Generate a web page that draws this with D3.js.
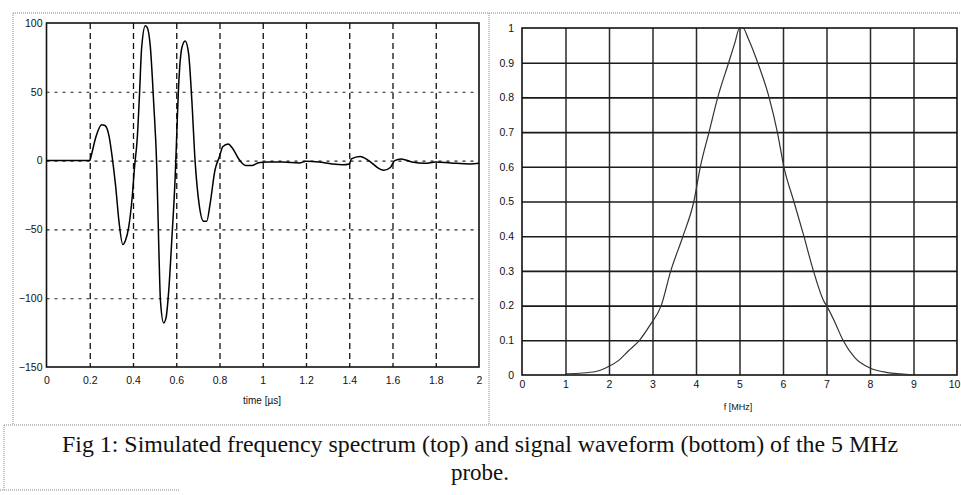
<!DOCTYPE html>
<html>
<head>
<meta charset="utf-8">
<script src="https://cdn.jsdelivr.net/npm/d3@7/dist/d3.min.js"></script>
<style>
  html, body { margin: 0; padding: 0; background: #fff; }
  svg { display: block; }
  .tick text { font-family: "Liberation Sans", Arial, sans-serif; font-size: 10.5px; fill: #111; }
  .domain { display: none; }
  .frame { fill: none; stroke: #888; stroke-width: 1; stroke-dasharray: 1,1; }
</style>
</head>
<body>
<script>
// Waveform (left panel): time in us, amplitude
var timeUs = [0, 0.2, 0.205, 0.228, 0.255, 0.27, 0.289, 0.304, 0.32, 0.335, 0.353, 0.365, 0.38, 0.396, 0.407,
  0.42, 0.43, 0.44, 0.457, 0.465, 0.48, 0.496, 0.51, 0.519, 0.527, 0.542, 0.553, 0.565, 0.58, 0.595, 0.603,
  0.61, 0.626, 0.641, 0.657, 0.672, 0.687, 0.706, 0.726, 0.741, 0.756, 0.779, 0.8, 0.815, 0.84, 0.86, 0.89,
  0.92, 0.95, 0.98, 1.02, 1.09, 1.17, 1.2, 1.26, 1.32, 1.37, 1.4, 1.41, 1.45, 1.49, 1.54, 1.56, 1.59, 1.61,
  1.64, 1.69, 1.75, 1.8, 1.87, 1.96, 2.0];
var amplitude = [0, 0, 2.5, 17, 26, 25.5, 18, 2.4, -19, -44, -61, -58, -48.5, -27, -5,
  17, 48, 82, 98, 97, 83, 41, -5, -61, -102, -118, -114, -95, -56, -12, 22,
  51, 82, 87, 78, 44, 0, -32, -44, -44, -32, -7, 3, 10, 12, 9, 1,
  -3.5, -3.5, -1.5, -1, -1, -1.7, -0.5, -1, -2.4, -3, -2.4, 1.2, 3, 0, -6, -7, -5, 0,
  1.2, -1, -2, -1, -1.7, -2.4, -2];

// Spectrum (right panel): frequency in MHz, normalised magnitude
var freqMHz = [1.0, 1.3, 1.7, 2.0, 2.2, 2.45, 2.7, 2.95, 3.2, 3.42, 3.7, 3.95, 4.1, 4.3, 4.5, 4.75, 4.9, 5.0,
  5.08, 5.2, 5.42, 5.68, 5.87, 6.02, 6.25, 6.48, 6.7, 6.95, 7.0, 7.2, 7.38, 7.65, 8.0, 8.4, 8.7, 9.0];
var magnitude = [0.003, 0.005, 0.01, 0.025, 0.04, 0.07, 0.1, 0.145, 0.2, 0.3, 0.4, 0.5, 0.6, 0.7, 0.8, 0.9, 0.96, 1.0,
  1.0, 0.97, 0.9, 0.8, 0.7, 0.6, 0.5, 0.4, 0.3, 0.21, 0.2, 0.15, 0.1, 0.05, 0.02, 0.007, 0.003, 0];

var timeTicks = [0, 0.2, 0.4, 0.6, 0.8, 1, 1.2, 1.4, 1.6, 1.8, 2];
var ampTicks = [-150, -100, -50, 0, 50, 100];
var freqTicks = [0, 1, 2, 3, 4, 5, 6, 7, 8, 9, 10];
var magTicks = [0, 0.1, 0.2, 0.3, 0.4, 0.5, 0.6, 0.7, 0.8, 0.9, 1];

var captionLines = [
  'Fig 1: Simulated frequency spectrum (top) and signal waveform (bottom) of the 5 MHz',
  'probe.'
];

var W = 961, H = 495;

var svg = d3.select('body').append('svg')
  .attr('width', W)
  .attr('height', H);

svg.append('rect').attr('width', W).attr('height', H).attr('fill', '#fff');

// Scanned figure frame.
svg.append('path').attr('class', 'frame')
  .attr('d', 'M13,13H961 M13,13V425 M489,13V425 M4,425H961 M4,425V490 M0,490H180');

// ---- Left panel: waveform ----
var left = { x0: 46.5, x1: 479, y0: 23, y1: 367 };

var xT = d3.scaleLinear().domain([0, 2]).range([left.x0, left.x1]);
var yA = d3.scaleLinear().domain([-150, 100]).range([left.y1, left.y0]);

var gL = svg.append('g');

gL.append('g')
  .attr('transform', 'translate(0,' + left.y0 + ')')
  .call(d3.axisBottom(xT).tickValues(timeTicks.slice(1, -1)).tickFormat('').tickSizeInner(left.y1 - left.y0).tickSizeOuter(0))
  .selectAll('.tick line')
  .attr('stroke', '#111').attr('stroke-width', 1.3).attr('stroke-dasharray', '6,4');

gL.append('g')
  .attr('transform', 'translate(' + left.x0 + ',0)')
  .call(d3.axisRight(yA).tickValues(ampTicks.slice(1, -1)).tickFormat('').tickSizeInner(left.x1 - left.x0).tickSizeOuter(0))
  .selectAll('.tick line')
  .attr('stroke', '#222').attr('stroke-width', 1.1).attr('stroke-dasharray', '3,5');

gL.append('rect')
  .attr('x', left.x0).attr('y', left.y0)
  .attr('width', left.x1 - left.x0).attr('height', left.y1 - left.y0)
  .attr('fill', 'none').attr('stroke', '#111').attr('stroke-width', 1.6);

gL.append('g')
  .attr('transform', 'translate(0,' + left.y1 + ')')
  .call(d3.axisBottom(xT).tickValues(timeTicks).tickSize(0).tickPadding(10).tickFormat(function(d) { return d; }));

gL.append('g')
  .attr('transform', 'translate(' + left.x0 + ',0)')
  .call(d3.axisLeft(yA).tickValues(ampTicks).tickSize(0).tickPadding(4));

var wave = d3.line()
  .x(function(d) { return xT(d[0]); })
  .y(function(d) { return yA(d[1]); })
  .curve(d3.curveMonotoneX);

gL.append('path')
  .datum(d3.zip(timeUs, amplitude))
  .attr('d', wave)
  .attr('fill', 'none').attr('stroke', '#000').attr('stroke-width', 1.5);

gL.append('text')
  .attr('x', 262).attr('y', 404)
  .attr('text-anchor', 'middle')
  .style('font-family', '"Liberation Sans", Arial, sans-serif')
  .style('font-size', '10px')
  .attr('fill', '#111')
  .text('time [µs]');

// ---- Right panel: spectrum ----
var right = { x0: 522, x1: 957, y0: 28, y1: 375 };

var xF = d3.scaleLinear().domain([0, 10]).range([right.x0, right.x1]);
var yM = d3.scaleLinear().domain([0, 1]).range([right.y1, right.y0]);

var gR = svg.append('g');

gR.append('g')
  .attr('transform', 'translate(0,' + right.y0 + ')')
  .call(d3.axisBottom(xF).tickValues(freqTicks.slice(1, -1)).tickFormat('').tickSizeInner(right.y1 - right.y0).tickSizeOuter(0))
  .selectAll('.tick line')
  .attr('stroke', '#2a2a2a').attr('stroke-width', 1.5);

gR.append('g')
  .attr('transform', 'translate(' + right.x0 + ',0)')
  .call(d3.axisRight(yM).tickValues(magTicks.slice(1, -1)).tickFormat('').tickSizeInner(right.x1 - right.x0).tickSizeOuter(0))
  .selectAll('.tick line')
  .attr('stroke', '#1a1a1a').attr('stroke-width', 1.6);

gR.append('rect')
  .attr('x', right.x0).attr('y', right.y0)
  .attr('width', right.x1 - right.x0).attr('height', right.y1 - right.y0)
  .attr('fill', 'none').attr('stroke', '#111').attr('stroke-width', 1.6);

gR.append('g')
  .attr('transform', 'translate(0,' + right.y1 + ')')
  .call(d3.axisBottom(xF).tickValues(freqTicks).tickSize(0).tickPadding(6))
  .selectAll('.tick text')
  .attr('dx', function(d) { return d === 10 ? -3 : 0; });

gR.append('g')
  .attr('transform', 'translate(' + right.x0 + ',0)')
  .call(d3.axisLeft(yM).tickValues(magTicks).tickSize(0).tickPadding(8).tickFormat(function(d) { return d; }));

var spec = d3.line()
  .x(function(d) { return xF(d[0]); })
  .y(function(d) { return yM(d[1]); })
  .curve(d3.curveMonotoneX);

gR.append('path')
  .datum(d3.zip(freqMHz, magnitude))
  .attr('d', spec)
  .attr('fill', 'none').attr('stroke', '#333').attr('stroke-width', 1.2);

gR.append('text')
  .attr('x', 738).attr('y', 410)
  .attr('text-anchor', 'middle')
  .style('font-family', '"Liberation Sans", Arial, sans-serif')
  .style('font-size', '9px')
  .attr('fill', '#111')
  .text('f [MHz]');

// ---- Caption ----
var cap = svg.append('g')
  .style('font-family', '"Liberation Serif", "Times New Roman", serif')
  .style('font-size', '23px')
  .attr('fill', '#111');

cap.append('text')
  .attr('x', 62).attr('y', 452)
  .attr('textLength', 836).attr('lengthAdjust', 'spacingAndGlyphs')
  .text(captionLines[0]);

cap.append('text')
  .attr('x', 480).attr('y', 480)
  .attr('text-anchor', 'middle')
  .text(captionLines[1]);
</script>
</body>
</html>
